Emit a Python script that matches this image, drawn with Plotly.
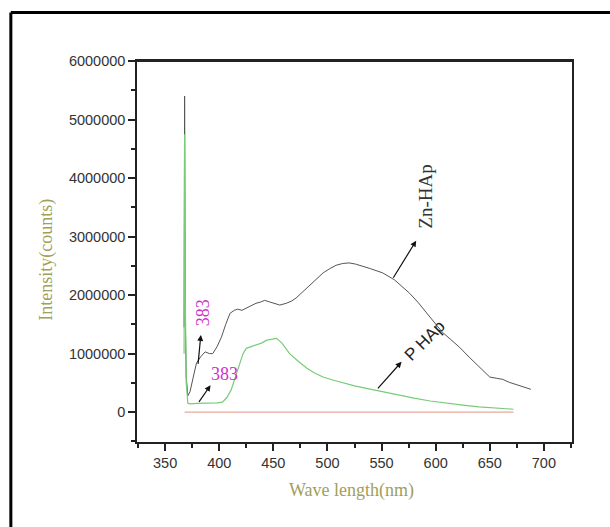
import plotly.graph_objects as go

# Zn-HAp (black/gray curve)
zn_x = [367.5, 368, 368.6, 369.5, 371, 373, 376, 379, 383, 387, 391, 394, 398, 402, 406, 410, 414, 417, 421, 425,
        430, 434, 438, 442, 447, 451, 456, 462, 467, 471, 477, 483, 490, 496, 502, 508, 514, 520, 526, 532,
        540, 551, 562, 576, 584, 591, 598, 606, 614, 622, 631, 640, 650, 656, 662, 668, 675, 682, 688]
zn_y = [1.45e6, 5.4e6, 1.6e6, 0.6e6, 0.28e6, 0.35e6, 0.6e6, 0.84e6, 0.95e6, 1.03e6, 1.0e6, 1.0e6, 1.12e6, 1.28e6, 1.5e6, 1.69e6, 1.74e6, 1.76e6, 1.74e6, 1.78e6,
        1.82e6, 1.86e6, 1.88e6, 1.91e6, 1.88e6, 1.86e6, 1.83e6, 1.86e6, 1.9e6, 1.95e6, 2.05e6, 2.15e6, 2.28e6, 2.38e6, 2.45e6, 2.51e6, 2.54e6, 2.55e6, 2.53e6, 2.5e6,
        2.45e6, 2.38e6, 2.26e6, 2.03e6, 1.87e6, 1.71e6, 1.56e6, 1.37e6, 1.24e6, 1.11e6, 0.94e6, 0.78e6, 0.6e6, 0.58e6, 0.56e6, 0.51e6, 0.47e6, 0.42e6, 0.39e6]

# P HAp (green curve)
p_x = [367.5, 368, 368.6, 369.5, 371, 374, 379, 385, 392, 398, 403, 407, 411, 415, 419, 422, 425, 430, 434, 439,
       444, 449, 453, 458, 465, 473, 481, 488, 496, 505, 514, 525, 535, 545, 555, 565, 580, 595, 610, 625, 640, 655, 665, 672]
p_y = [1.0e6, 4.75e6, 2.0e6, 0.5e6, 0.15e6, 0.14e6, 0.15e6, 0.15e6, 0.15e6, 0.16e6, 0.17e6, 0.25e6, 0.38e6, 0.6e6, 0.84e6, 1.0e6, 1.09e6, 1.12e6, 1.15e6, 1.18e6,
       1.23e6, 1.25e6, 1.26e6, 1.18e6, 1.0e6, 0.87e6, 0.75e6, 0.67e6, 0.6e6, 0.55e6, 0.5e6, 0.45e6, 0.41e6, 0.37e6, 0.33e6, 0.29e6, 0.24e6, 0.19e6, 0.15e6, 0.12e6, 0.09e6, 0.07e6, 0.06e6, 0.05e6]

# Baseline (red)
base_x = [368, 672]
base_y = [0, 0]

x_ticks = [350, 400, 450, 500, 550, 600, 650, 700]
y_ticks = [0, 1000000, 2000000, 3000000, 4000000, 5000000, 6000000]

fig = go.Figure()
fig.add_trace(go.Scatter(x=base_x, y=base_y, mode="lines", line=dict(color="#e8a89c", width=1.2), showlegend=False))
fig.add_trace(go.Scatter(x=zn_x, y=zn_y, mode="lines", line=dict(color="#555555", width=1), showlegend=False))
fig.add_trace(go.Scatter(x=p_x, y=p_y, mode="lines", line=dict(color="#77cc77", width=1.2), showlegend=False))

tickfont = dict(family="Liberation Sans, Arial", size=14.5, color="#333333")

fig.update_layout(
    width=610, height=527,
    margin=dict(l=137, r=38, t=61, b=85),
    paper_bgcolor="white", plot_bgcolor="white",
    xaxis=dict(range=[324, 726], tickvals=x_ticks, ticktext=[str(v) for v in x_ticks],
               ticks="outside", ticklen=7, tickwidth=1.5, tickcolor="#222",
               showline=True, linecolor="#222", linewidth=1.5, mirror=True,
               showgrid=False, zeroline=False, tickfont=tickfont,
               minor=dict(dtick=25, tick0=325, ticks="outside", ticklen=4, tickwidth=1.5, tickcolor="#222")),
    yaxis=dict(range=[-510000, 6000000], tickvals=y_ticks, ticktext=[str(v) for v in y_ticks],
               ticks="outside", ticklen=7, tickwidth=1.5, tickcolor="#222",
               showline=True, linecolor="#222", linewidth=1.5, mirror=True,
               showgrid=False, zeroline=False, tickfont=tickfont,
               minor=dict(dtick=500000, tick0=0, ticks="outside", ticklen=4, tickwidth=1.5, tickcolor="#222")),
    shapes=[
        dict(type="line", xref="paper", yref="paper", x0=-0.29, x1=1.2, y0=1.127, y1=1.127,
             line=dict(color="black", width=3)),
        dict(type="line", xref="paper", yref="paper", x0=-0.29, x1=-0.29, y0=1.127, y1=-0.3,
             line=dict(color="black", width=3)),
        dict(type="line", xref="paper", yref="paper", x0=0, x1=1.0, y0=1.0, y1=1.0,
             line=dict(color="#222", width=2)),
    ],
)

serif = "Liberation Serif, Times New Roman"
annos = [
    dict(text="Intensity(counts)", xref="paper", yref="paper", x=-0.207, y=0.478, showarrow=False,
         xanchor="center", yanchor="middle",
         textangle=-90, font=dict(family=serif, size=18, color="#a0a058")),
    dict(text="Wave length(nm)", xref="paper", yref="paper", x=0.494, y=-0.127, showarrow=False,
         xanchor="center", yanchor="middle",
         font=dict(family=serif, size=18, color="#a0a058")),
    dict(text="383", x=385, y=1.69e6, showarrow=False, textangle=-90,
         font=dict(family=serif, size=18, color="#cc33cc")),
    dict(text="383", x=405, y=0.65e6, showarrow=False,
         font=dict(family=serif, size=18, color="#cc33cc")),
    dict(text="Zn-HAp", x=591, y=3.68e6, showarrow=False, textangle=-90,
         font=dict(family=serif, size=19, color="#333333")),
    dict(text="P HAp", x=590, y=1.23e6, showarrow=False, textangle=-45,
         font=dict(family="Liberation Sans, Arial", size=17, color="#222222")),
    # arrows
    dict(x=383, y=1.32e6, ax=380.3, ay=0.8e6, axref="x", ayref="y", text="", showarrow=True,
         arrowhead=2, arrowsize=1, arrowwidth=1.2, arrowcolor="#111"),
    dict(x=392, y=0.46e6, ax=380.3, ay=0.15e6, axref="x", ayref="y", text="", showarrow=True,
         arrowhead=2, arrowsize=1, arrowwidth=1.2, arrowcolor="#111"),
    dict(x=582, y=2.93e6, ax=560, ay=2.27e6, axref="x", ayref="y", text="", showarrow=True,
         arrowhead=2, arrowsize=1, arrowwidth=1.2, arrowcolor="#111"),
    dict(x=568.5, y=0.86e6, ax=545.4, ay=0.38e6, axref="x", ayref="y", text="", showarrow=True,
         arrowhead=2, arrowsize=1, arrowwidth=1.2, arrowcolor="#111"),
]
fig.update_layout(annotations=annos)

fig.write_html("out.html")
